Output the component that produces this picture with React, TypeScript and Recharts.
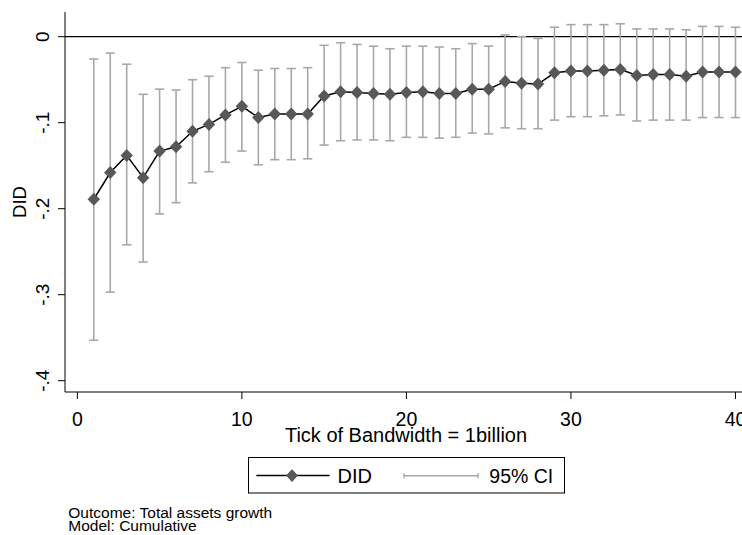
import { ComposedChart, Line, Scatter, ErrorBar, XAxis, YAxis, ReferenceLine, Legend, Label } from 'recharts';

// bandwidth steps (billion)
const bandwidth = [1, 2, 3, 4, 5, 6, 7, 8, 9, 10, 11, 12, 13, 14, 15, 16, 17, 18, 19, 20,
  21, 22, 23, 24, 25, 26, 27, 28, 29, 30, 31, 32, 33, 34, 35, 36, 37, 38, 39, 40];

const didEstimate = [-0.189, -0.158, -0.138, -0.164, -0.133, -0.128, -0.110, -0.102, -0.091, -0.081,
  -0.094, -0.090, -0.090, -0.090, -0.069, -0.064, -0.065, -0.066, -0.067, -0.065,
  -0.064, -0.066, -0.066, -0.061, -0.061, -0.052, -0.054, -0.055, -0.042, -0.040,
  -0.040, -0.039, -0.038, -0.045, -0.044, -0.044, -0.046, -0.041, -0.041, -0.041];

const ciUpper = [-0.026, -0.019, -0.032, -0.067, -0.061, -0.062, -0.050, -0.046, -0.036, -0.030,
  -0.039, -0.037, -0.037, -0.036, -0.010, -0.007, -0.009, -0.011, -0.014, -0.011,
  -0.011, -0.012, -0.014, -0.008, -0.011, 0.002, 0.000, -0.002, 0.011, 0.014,
  0.014, 0.014, 0.015, 0.009, 0.009, 0.009, 0.008, 0.012, 0.012, 0.011];

const ciLower = [-0.353, -0.297, -0.242, -0.262, -0.206, -0.193, -0.170, -0.157, -0.146, -0.133,
  -0.149, -0.143, -0.143, -0.142, -0.126, -0.121, -0.120, -0.120, -0.121, -0.117,
  -0.117, -0.118, -0.117, -0.112, -0.113, -0.106, -0.107, -0.107, -0.097, -0.093,
  -0.093, -0.092, -0.091, -0.098, -0.097, -0.097, -0.097, -0.094, -0.094, -0.094];

const xTicks = [0, 10, 20, 30, 40];
const yTicks = [-0.4, -0.3, -0.2, -0.1, 0];

const FONT = '"Liberation Sans", Arial, Helvetica, sans-serif';
const MARKER = '#585858';
const CI_GRAY = '#a8a8a8';

const rows = bandwidth.map((bw, i) => ({
  bw,
  did: didEstimate[i],
  ci: [didEstimate[i] - ciLower[i], ciUpper[i] - didEstimate[i]],
}));

const fmtY = (v: number) => (v === 0 ? '0' : v.toFixed(1).replace('0.', '.'));

const renderDiamond = (props: any) => {
  const { cx, cy, index } = props;
  if (cx == null || cy == null) return <g key={`d-${index}`} />;
  return (
    <path
      key={`d-${index}`}
      d={`M${cx},${cy - 6.5} L${cx + 6.2},${cy} L${cx},${cy + 6.5} L${cx - 6.2},${cy} Z`}
      fill={MARKER}
    />
  );
};

const YTick = (props: any) => {
  const { x, y, payload } = props;
  return (
    <text
      x={x}
      y={y}
      transform={`rotate(-90, ${x}, ${y})`}
      textAnchor="middle"
      fontFamily={FONT}
      fontSize={19}
      fill="#000"
    >
      {fmtY(payload.value)}
    </text>
  );
};

const YTitle = (props: any) => {
  const { viewBox } = props;
  const x = viewBox.x + 17.5;
  const y = viewBox.y + viewBox.height / 2;
  return (
    <text x={x} y={y} transform={`rotate(-90, ${x}, ${y})`} textAnchor="middle"
      fontFamily={FONT} fontSize={18.5} fill="#000">
      DID
    </text>
  );
};

const XTitle = (props: any) => {
  const { viewBox } = props;
  return (
    <text x={viewBox.x + viewBox.width / 2} y={viewBox.y + 49.7} textAnchor="middle"
      fontFamily={FONT} fontSize={20} fill="#000">
      Tick of Bandwidth = 1billion
    </text>
  );
};

const LegendBox = () => (
  <svg width={318} height={37} style={{ display: 'block' }}>
    <rect x={0.5} y={0.5} width={316} height={35.5} fill="#fff" stroke="#000" strokeWidth={1} />
    <line x1={8.3} y1={18.6} x2={81.6} y2={18.6} stroke="#000" strokeWidth={1.5} />
    <path d="M44,12.3 L50,18.6 L44,24.9 L38,18.6 Z" fill={MARKER} />
    <text x={89.5} y={25.8} fontFamily={FONT} fontSize={20} fill="#000">DID</text>
    <line x1={155.3} y1={18.8} x2={230.6} y2={18.8} stroke={CI_GRAY} strokeWidth={1.5} />
    <line x1={156} y1={16} x2={156} y2={21.6} stroke={CI_GRAY} strokeWidth={1.2} />
    <line x1={230} y1={16} x2={230} y2={21.6} stroke={CI_GRAY} strokeWidth={1.2} />
    <text x={241.3} y={25.8} fontFamily={FONT} fontSize={19.5} fill="#000">95% CI</text>
  </svg>
);

export default function App() {
  // fixed to the viewport so the plot can run off the right edge like the original export
  return (
    <div style={{ position: 'fixed', left: 0, top: 0, width: 742, height: 535, overflow: 'hidden', background: '#fff' }}>
      <div style={{ position: 'absolute', left: 8, top: 8, width: 800, height: 527 }}>
        <ComposedChart
          width={800}
          height={527}
          data={rows}
          margin={{ top: 4, right: 61, bottom: 73, left: 0 }}
        >
          <XAxis
            dataKey="bw"
            type="number"
            domain={[-0.75, 40.7]}
            ticks={xTicks}
            tickSize={7}
            tickMargin={13}
            height={70}
            stroke="#000"
            tick={{ fontFamily: FONT, fontSize: 19.5, fill: '#000' }}
          >
            <Label content={XTitle} />
          </XAxis>
          <XAxis xAxisId="top" orientation="top" dataKey="bw" type="number" domain={[-0.75, 40.7]}
            tick={false} tickLine={false} height={0} stroke="#404040" />
          <YAxis
            type="number"
            domain={[-0.41314, 0.02872]}
            ticks={yTicks}
            allowDataOverflow
            width={57}
            tickSize={7}
            tickMargin={9}
            stroke="#000"
            tick={<YTick />}
          >
            <Label content={YTitle} />
          </YAxis>
          <ReferenceLine y={0} stroke="#000" strokeWidth={1.2} />
          <Line
            dataKey="did"
            stroke="#000"
            strokeWidth={1.5}
            dot={renderDiamond}
            activeDot={false}
            isAnimationActive={false}
            legendType="none"
          />
          <Scatter dataKey="did" shape={() => <g />} isAnimationActive={false} legendType="none">
            <ErrorBar dataKey="ci" direction="y" width={4.6} stroke={CI_GRAY} strokeWidth={1.6} />
          </Scatter>
          <Legend
            layout="horizontal"
            verticalAlign="middle"
            content={LegendBox}
            wrapperStyle={{ position: 'absolute', left: 239.7, top: 448.7, width: 318, height: 37 }}
          />
        </ComposedChart>
        <svg width={400} height={527} style={{ position: 'absolute', left: 0, top: 0, pointerEvents: 'none' }}>
          <text x={60.3} y={509.7} fontFamily={FONT} fontSize={15.5} fill="#000">Outcome: Total assets growth</text>
          <text x={60.3} y={522.7} fontFamily={FONT} fontSize={15.5} fill="#000">Model: Cumulative</text>
        </svg>
      </div>
    </div>
  );
}
